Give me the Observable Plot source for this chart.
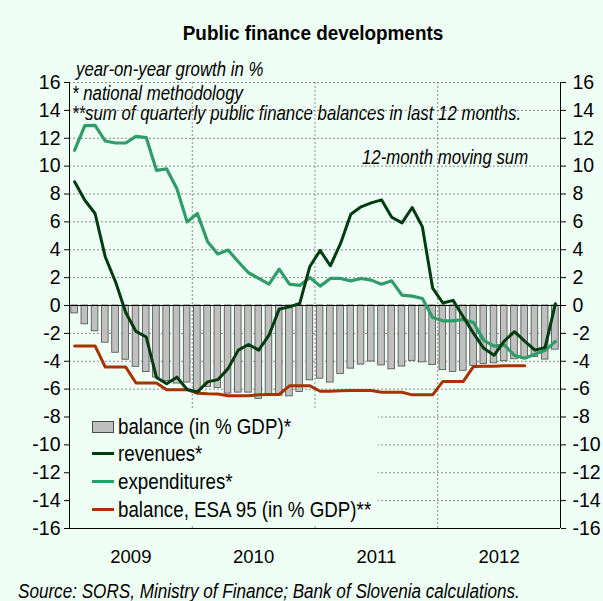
<!DOCTYPE html>
<html>
<head>
<meta charset="utf-8">
<script src="https://cdn.jsdelivr.net/npm/d3@7"></script>
<script src="https://cdn.jsdelivr.net/npm/@observablehq/plot@0.6"></script>
<style>
  html, body { margin: 0; padding: 0; background: #f0fff6; }
  #wrap { position: relative; width: 603px; height: 601px; overflow: hidden; background: #f0fff6;
          font-family: "Liberation Sans", Arial, sans-serif; color: #000; }
  .abs { position: absolute; white-space: nowrap; line-height: 1; }
  .it { font-style: italic; font-size: 20px; transform: scaleX(0.84); transform-origin: 0 0; }
  #title { left: 0; width: 626px; text-align: center; top: 22px; font-weight: bold; font-size: 21px; transform: scaleX(0.9); transform-origin: 313px 0; }
  #chart { position: absolute; left: 0; top: 50px; }
  #legend { position: absolute; left: 70px; top: 408px; width: 308px; height: 118px; background: #f0fff6; }
  .row { position: absolute; left: 22px; height: 24px; font-size: 22px; line-height: 24px; }
  .sw { position: absolute; left: 0; width: 22px; }
  .row span { position: absolute; left: 26px; top: 0; white-space: nowrap; transform: scaleX(0.852); transform-origin: 0 0; }
</style>
</head>
<body>
<div id="wrap">
  <div id="title" class="abs">Public finance developments</div>
  <div class="abs it" style="left:76px; top:59px;">year-on-year growth in %</div>
  <div class="abs it" style="left:72px; top:83px;">* national methodology</div>
  <div class="abs it" style="left:72px; top:103px;">**sum of quarterly public finance balances in last 12 months.</div>
  <div class="abs it" style="left:362px; top:147px;">12-month moving sum</div>
  <div id="chart"></div>
  <div id="legend"></div>
  <div class="abs it" style="left:18px; top:581px; transform: scaleX(0.855);">Source: SORS, Ministry of Finance; Bank of Slovenia calculations.</div>
</div>
<script>
// ---- data (monthly, Jan 2009 .. Dec 2012) ----
const years = ["2009", "2010", "2011", "2012"];
const balance = [
  -0.57, -1.35, -1.85, -2.67, -3.39, -3.89, -4.40, -4.78, -5.17, -5.42, -5.60, -5.53,
  -6.20, -5.84, -5.92, -6.32, -6.25, -6.25, -6.70, -6.37, -6.47, -6.52, -6.20, -5.37,
  -5.25, -5.53, -4.92, -4.53, -4.24, -4.02, -4.30, -4.58, -4.38, -3.97, -4.08, -4.28,
  -4.64, -4.76, -4.68, -4.33, -4.20, -4.15, -4.00, -3.86, -3.80, -3.70, -3.88, -3.17
];
const revenues = [
  8.88, 7.55, 6.60, 3.48, 1.70, -0.50, -1.86, -2.26, -5.16, -5.62, -5.14, -6.03,
  -6.20, -5.48, -5.32, -4.53, -3.20, -2.80, -3.20, -2.13, -0.26, -0.10, 0.14, 2.80,
  3.95, 2.85, 4.45, 6.55, 7.08, 7.36, 7.58, 6.33, 5.93, 7.03, 5.64, 1.25,
  0.18, 0.37, -0.82, -2.00, -3.07, -3.57, -2.55, -1.88, -2.56, -3.20, -3.01, 0.13
];
const expenditures = [
  11.14, 12.90, 12.93, 11.80, 11.66, 11.66, 12.14, 12.05, 9.70, 9.80, 8.38, 6.00,
  6.60, 4.58, 3.70, 3.98, 3.14, 2.35, 1.94, 1.53, 2.61, 1.53, 1.44, 2.01,
  1.39, 1.94, 1.94, 1.77, 1.94, 1.82, 1.53, 1.77, 0.74, 0.67, 0.50, -0.86,
  -1.10, -1.10, -1.00, -1.22, -2.50, -2.92, -2.83, -3.58, -3.78, -3.50, -3.22, -2.58
];
const esaBalance = [
  -2.90, -2.90, -2.90, -4.42, -4.42, -4.42, -5.56, -5.56, -5.56, -6.04, -6.04, -6.04,
  -6.30, -6.34, -6.35, -6.47, -6.48, -6.48, -6.40, -6.38, -6.38, -5.76, -5.76, -5.76,
  -6.15, -6.15, -6.12, -6.10, -6.10, -6.10, -6.22, -6.23, -6.23, -6.41, -6.41, -6.41,
  -5.45, -5.45, -5.45, -4.37, -4.36, -4.35, -4.33, -4.33, -4.33
];
const yTicks = [16, 14, 12, 10, 8, 6, 4, 2, 0, -2, -4, -6, -8, -10, -12, -14, -16];

const colors = { bar: "#c0c0c0", barStroke: "#4a4a4a", rev: "#003c0f", exp: "#2f9c6a", esa: "#a83300" };

// ---- build tables ----
const barData = balance.map((v, i) => ({ m: i, v }));
const revData = revenues.map((v, i) => ({ m: i + 0.5, v }));
const expData = expenditures.map((v, i) => ({ m: i + 0.5, v }));
const esaData = esaBalance.map((v, i) => ({ m: i + 0.5, v }));
const nMonths = balance.length;
const xDomain = [0, nMonths];
const yearCenters = years.map((y, k) => k * 12 + 6);
const yearBounds = years.slice(1).map((y, k) => (k + 1) * 12);
const yDomain = [d3.min(yTicks), d3.max(yTicks)];

const grid = { stroke: "#8a8a8a", strokeOpacity: 1, strokeDasharray: "2,2", strokeWidth: 1 };

const plot = Plot.plot({
  width: 603,
  height: 510,
  marginTop: 32,
  marginBottom: 32,
  marginLeft: 69,
  marginRight: 43,
  style: { background: "transparent", fontFamily: "'Liberation Sans', Arial, sans-serif", fontSize: "19.5px", color: "#000", overflow: "visible" },
  x: { domain: xDomain, axis: null },
  y: { domain: yDomain, axis: null },
  marks: [
    Plot.gridY(yTicks.filter(t => t !== 0 && t !== yDomain[0]), grid),
    Plot.gridX(yearBounds, grid),
    Plot.rectY(barData, { x: "m", y: "v", interval: 1, fill: colors.bar, stroke: colors.barStroke, strokeWidth: 0.8, insetLeft: 1.8, insetRight: 1.8 }),
    Plot.ruleY([0], { stroke: "#000", strokeWidth: 1 }),
    Plot.line(esaData, { x: "m", y: "v", stroke: colors.esa, strokeWidth: 3 }),
    Plot.line(expData, { x: "m", y: "v", stroke: colors.exp, strokeWidth: 3.2 }),
    Plot.line(revData, { x: "m", y: "v", stroke: colors.rev, strokeWidth: 3 }),
    Plot.ruleX(xDomain, { stroke: "#000", strokeWidth: 1 }),
    Plot.ruleY([yDomain[0]], { stroke: "#000", strokeWidth: 1 }),
    Plot.axisY({ anchor: "left", ticks: yTicks, tickSize: 5, tickPadding: 4, label: null, tickFormat: d => String(d) }),
    Plot.axisY({ anchor: "right", ticks: yTicks, tickSize: 5, tickPadding: 7, label: null, tickFormat: d => String(d) }),
    Plot.axisX({ ticks: yearCenters, tickSize: 0, tickPadding: 21, label: null, fontSize: 18.5, tickFormat: d => years[(d - 6) / 12] })
  ]
});
document.getElementById("chart").appendChild(plot);

// ---- legend ----
const legendItems = [
  { label: "balance (in % GDP)*", type: "bar", color: colors.bar },
  { label: "revenues*", type: "line", color: colors.rev },
  { label: "expenditures*", type: "line", color: colors.exp },
  { label: "balance, ESA 95 (in % GDP)**", type: "line", color: colors.esa }
];
const lg = document.getElementById("legend");
legendItems.forEach((it, k) => {
  const row = document.createElement("div");
  row.className = "row";
  row.style.top = (6.5 + k * 27.8) + "px";
  const sw = document.createElement("div");
  sw.className = "sw";
  if (it.type === "bar") {
    sw.style.top = "6px"; sw.style.height = "10px"; sw.style.width = "20px";
    sw.style.background = it.color; sw.style.border = "1px solid " + colors.barStroke;
  } else {
    sw.style.top = "10px"; sw.style.height = "3px"; sw.style.background = it.color;
  }
  const tx = document.createElement("span");
  tx.textContent = it.label;
  row.appendChild(sw); row.appendChild(tx);
  lg.appendChild(row);
});
</script>
</body>
</html>
